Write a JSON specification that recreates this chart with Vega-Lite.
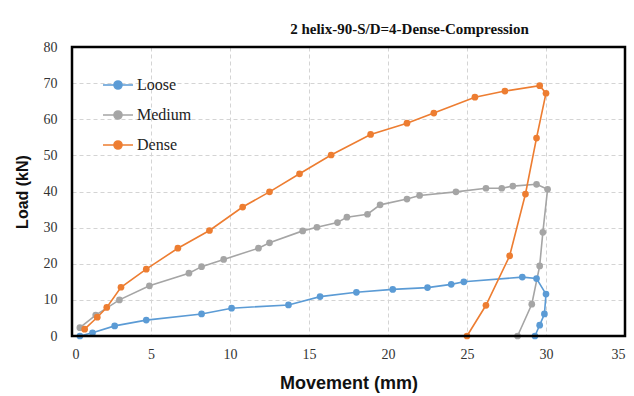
{
  "$schema": "https://vega.github.io/schema/vega-lite/v6.json",
  "width": 553,
  "height": 289,
  "autosize": {"type": "none"},
  "padding": {"left": 72, "top": 47, "right": 9, "bottom": 60},
  "background": "white",
  "title": {
    "text": "2 helix-90-S/D=4-Dense-Compression",
    "font": "Liberation Serif",
    "fontSize": 15,
    "fontWeight": "bold",
    "color": "#111",
    "anchor": "middle",
    "dx": 61,
    "offset": 3
  },
  "config": {
    "view": {"stroke": null},
    "axis": {
      "labelFont": "Liberation Serif",
      "labelFontSize": 14,
      "labelColor": "#333",
      "titleFont": "Liberation Sans",
      "titleFontWeight": "bold",
      "titleColor": "#111",
      "domain": false,
      "grid": true,
      "gridColor": "#d4d4d4",
      "gridDash": [4, 3],
      "gridWidth": 1,
      "ticks": false
    }
  },
  "datasets": {
    "frame": [{"x": 0, "x1": 35, "y": 0, "y1": 80}],
    "curves": [
      {"series": "Loose", "i": 1, "x": 0.5, "y": 0},
      {"series": "Loose", "i": 2, "x": 1.3, "y": 0.9},
      {"series": "Loose", "i": 3, "x": 2.7, "y": 2.8},
      {"series": "Loose", "i": 4, "x": 4.7, "y": 4.4},
      {"series": "Loose", "i": 5, "x": 8.2, "y": 6.1},
      {"series": "Loose", "i": 6, "x": 10.1, "y": 7.7},
      {"series": "Loose", "i": 7, "x": 13.7, "y": 8.6},
      {"series": "Loose", "i": 8, "x": 15.7, "y": 10.9},
      {"series": "Loose", "i": 9, "x": 18.0, "y": 12.1},
      {"series": "Loose", "i": 10, "x": 20.3, "y": 12.9},
      {"series": "Loose", "i": 11, "x": 22.5, "y": 13.4},
      {"series": "Loose", "i": 12, "x": 24.0, "y": 14.3},
      {"series": "Loose", "i": 13, "x": 24.8, "y": 15.0},
      {"series": "Loose", "i": 14, "x": 28.5, "y": 16.3},
      {"series": "Loose", "i": 15, "x": 29.4, "y": 15.9},
      {"series": "Loose", "i": 16, "x": 30.0, "y": 11.6},
      {"series": "Loose", "i": 17, "x": 29.9, "y": 6.1},
      {"series": "Loose", "i": 18, "x": 29.6, "y": 3.0},
      {"series": "Loose", "i": 19, "x": 29.3, "y": 0},
      {"series": "Medium", "i": 1, "x": 0.5, "y": 2.3},
      {"series": "Medium", "i": 2, "x": 1.5, "y": 5.8},
      {"series": "Medium", "i": 3, "x": 3.0, "y": 10.0},
      {"series": "Medium", "i": 4, "x": 4.9, "y": 13.9},
      {"series": "Medium", "i": 5, "x": 7.4, "y": 17.4},
      {"series": "Medium", "i": 6, "x": 8.2, "y": 19.2},
      {"series": "Medium", "i": 7, "x": 9.6, "y": 21.2},
      {"series": "Medium", "i": 8, "x": 11.8, "y": 24.3},
      {"series": "Medium", "i": 9, "x": 12.5, "y": 25.8},
      {"series": "Medium", "i": 10, "x": 14.6, "y": 29.1},
      {"series": "Medium", "i": 11, "x": 15.5, "y": 30.1},
      {"series": "Medium", "i": 12, "x": 16.8, "y": 31.4},
      {"series": "Medium", "i": 13, "x": 17.4, "y": 32.9},
      {"series": "Medium", "i": 14, "x": 18.7, "y": 33.7},
      {"series": "Medium", "i": 15, "x": 19.5, "y": 36.3},
      {"series": "Medium", "i": 16, "x": 21.2, "y": 37.9},
      {"series": "Medium", "i": 17, "x": 22.0, "y": 38.9},
      {"series": "Medium", "i": 18, "x": 24.3, "y": 39.9},
      {"series": "Medium", "i": 19, "x": 26.2, "y": 40.9},
      {"series": "Medium", "i": 20, "x": 27.2, "y": 40.9},
      {"series": "Medium", "i": 21, "x": 27.9, "y": 41.5},
      {"series": "Medium", "i": 22, "x": 29.4, "y": 42.0},
      {"series": "Medium", "i": 23, "x": 30.1, "y": 40.6},
      {"series": "Medium", "i": 24, "x": 29.8, "y": 28.7},
      {"series": "Medium", "i": 25, "x": 29.6, "y": 19.4},
      {"series": "Medium", "i": 26, "x": 29.1, "y": 8.8},
      {"series": "Medium", "i": 27, "x": 28.2, "y": 0},
      {"series": "Dense", "i": 1, "x": 0.8, "y": 1.9},
      {"series": "Dense", "i": 2, "x": 1.6, "y": 5.2},
      {"series": "Dense", "i": 3, "x": 2.2, "y": 7.9},
      {"series": "Dense", "i": 4, "x": 3.1, "y": 13.5},
      {"series": "Dense", "i": 5, "x": 4.7, "y": 18.5},
      {"series": "Dense", "i": 6, "x": 6.7, "y": 24.3},
      {"series": "Dense", "i": 7, "x": 8.7, "y": 29.2},
      {"series": "Dense", "i": 8, "x": 10.8, "y": 35.7},
      {"series": "Dense", "i": 9, "x": 12.5, "y": 39.9},
      {"series": "Dense", "i": 10, "x": 14.4, "y": 44.9},
      {"series": "Dense", "i": 11, "x": 16.4, "y": 50.1},
      {"series": "Dense", "i": 12, "x": 18.9, "y": 55.8},
      {"series": "Dense", "i": 13, "x": 21.2, "y": 58.9},
      {"series": "Dense", "i": 14, "x": 22.9, "y": 61.7},
      {"series": "Dense", "i": 15, "x": 25.5, "y": 66.1},
      {"series": "Dense", "i": 16, "x": 27.4, "y": 67.8},
      {"series": "Dense", "i": 17, "x": 29.6, "y": 69.3},
      {"series": "Dense", "i": 18, "x": 30.0, "y": 67.2},
      {"series": "Dense", "i": 19, "x": 29.4, "y": 54.8},
      {"series": "Dense", "i": 20, "x": 28.7, "y": 39.3},
      {"series": "Dense", "i": 21, "x": 27.7, "y": 22.2},
      {"series": "Dense", "i": 22, "x": 26.2, "y": 8.5},
      {"series": "Dense", "i": 23, "x": 25.0, "y": 0}
    ]
  },
  "encoding": {
    "x": {
      "field": "x", "type": "quantitative",
      "scale": {"domain": [0, 35], "nice": false},
      "axis": {
        "values": [0, 5, 10, 15, 20, 25, 30, 35],
        "title": "Movement (mm)", "titleFontSize": 18,
        "labelPadding": 11, "titlePadding": 13
      }
    },
    "y": {
      "field": "y", "type": "quantitative",
      "scale": {"domain": [0, 80], "nice": false},
      "axis": {
        "values": [0, 10, 20, 30, 40, 50, 60, 70, 80],
        "title": "Load (kN)", "titleFontSize": 16,
        "labelPadding": 15, "titlePadding": 13
      }
    }
  },
  "layer": [
    {
      "data": {"name": "curves"},
      "mark": {"type": "line", "strokeWidth": 1.6, "point": {"filled": true, "size": 45, "opacity": 1}},
      "encoding": {
        "order": {"field": "i", "type": "quantitative"},
        "color": {
          "field": "series", "type": "nominal",
          "scale": {"domain": ["Loose", "Medium", "Dense"], "range": ["#5B9BD5", "#A5A5A5", "#ED7D31"]},
          "legend": {
            "title": null,
            "orient": "none",
            "legendX": 30,
            "legendY": 22,
            "symbolType": "M-1,0H-0.27M0.27,0H1M-0.27,0A0.27,0.27 0 1,1 0.27,0A0.27,0.27 0 1,1 -0.27,0Z",
            "symbolSize": 900,
            "symbolStrokeWidth": 1.5,
            "labelFont": "Liberation Serif",
            "labelFontSize": 16,
            "labelColor": "#222",
            "labelOffset": 3,
            "rowPadding": 6,
            "encode": {"symbols": {"update": {"fill": {"scale": "color", "field": "value"}, "fillOpacity": {"value": 1}}}}
          }
        }
      }
    },
    {
      "data": {"name": "frame"},
      "mark": {"type": "rect", "fill": null, "fillOpacity": 0, "stroke": "#000", "strokeWidth": 2.5},
      "encoding": {
        "x2": {"field": "x1"},
        "y2": {"field": "y1"}
      }
    }
  ]
}
